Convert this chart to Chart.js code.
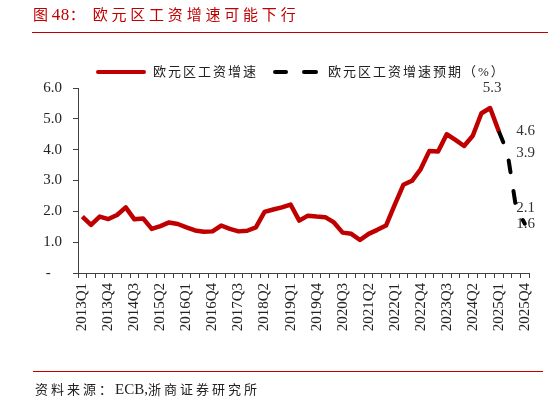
<!DOCTYPE html>
<html>
<head>
<meta charset="utf-8">
<script src="https://cdn.jsdelivr.net/npm/chart.js@4/dist/chart.umd.min.js"></script>
<style>
  html, body { margin: 0; padding: 0; background: #fff; }
  #wrap { position: relative; width: 548px; height: 403px; overflow: hidden;
    font-family: "Liberation Serif", "Noto Sans CJK SC", serif; }
  #chartBox { position: absolute; left: 0; top: 0; width: 548px; height: 403px; }
  .title { position: absolute; left: 33px; top: 4px; color: #c00000; font-size: 15px;
    letter-spacing: 3.8px; white-space: nowrap; line-height: 22px; }
  .rule { position: absolute; height: 1px; background: #c00000; }
  .legend-text { position: absolute; top: 63px; font-size: 13px; letter-spacing: 2px;
    color: #222; white-space: nowrap; line-height: 18px; }
  .swatch { position: absolute; height: 4px; border-radius: 2px; }
  .source { position: absolute; left: 35px; top: 379px; font-size: 13px; letter-spacing: 3px;
    color: #222; white-space: nowrap; line-height: 20px; }
  .latin { letter-spacing: 0; font-size: 15px; }
</style>
</head>
<body>
<div id="wrap">
  <div id="chartBox"><canvas id="wageChart"></canvas></div>
  <div class="title">图<span class="latin" style="font-size:17px; letter-spacing:0.5px;">48</span>：<span style="margin-left:4px;">欧元区工资增速可能下行</span></div>
  <div class="rule" style="left:32px; top:32px; width:516px;"></div>

  <div class="swatch" style="left:96px; top:70px; width:50px; background:#c00000;"></div>
  <div class="legend-text" style="left:153px;">欧元区工资增速</div>
  <div class="swatch" style="left:273px; top:70px; width:15px; background:#000;"></div>
  <div class="swatch" style="left:302px; top:70px; width:16px; background:#000;"></div>
  <div class="legend-text" style="left:328px;">欧元区工资增速预期（%）</div>

  <div class="rule" style="left:33px; top:371px; width:510px;"></div>
  <div class="source">资料来源：<span class="latin">ECB,</span>浙商证券研究所</div>
</div>

<script>
// 季度標籤 2013Q1 - 2025Q4
const quarters = [];
for (let y = 2013; y <= 2025; y++) {
  for (let q = 1; q <= 4; q++) quarters.push(y + 'Q' + q);
}

// 欧元区工资增速 (实际)
const wageActual = [
  1.83, 1.56, 1.83, 1.75, 1.88, 2.13, 1.74, 1.77,
  1.43, 1.52, 1.64, 1.59, 1.48, 1.38, 1.34, 1.35,
  1.54, 1.43, 1.35, 1.37, 1.48, 1.98, 2.06, 2.13,
  2.22, 1.70, 1.86, 1.83, 1.81, 1.64, 1.31, 1.27,
  1.07, 1.27, 1.40, 1.54, 2.21, 2.86, 2.99, 3.37,
  3.96, 3.94, 4.50, 4.32, 4.12, 4.45, 5.18, 5.35,
  4.60
];

// 欧元区工资增速预期 (2025Q1 - 2025Q4)
const wageForecast = [4.6, 3.9, 2.1, 1.6];
const forecastStart = 48;

const peakLabel = '5.3';
const yTicks = [0, 1, 2, 3, 4, 5, 6];

const RED = '#c00000';
const AXIS = '#404040';

const forecastSeries = quarters.map((q, i) =>
  i >= forecastStart ? wageForecast[i - forecastStart] : null);

// 数据标签
const valueLabels = {
  id: 'valueLabels',
  afterDatasetsDraw(chart) {
    const { ctx, scales: { x, y } } = chart;
    ctx.save();
    ctx.font = '15px "Liberation Serif", serif';
    ctx.fillStyle = '#333';
    ctx.textBaseline = 'middle';

    // 峰值
    let peakIdx = 0;
    wageActual.forEach((v, i) => { if (v > wageActual[peakIdx]) peakIdx = i; });
    ctx.textAlign = 'center';
    ctx.fillText(peakLabel, x.getPixelForValue(peakIdx) + 2,
      y.getPixelForValue(wageActual[peakIdx]) - 20);

    // 预期值
    ctx.textAlign = 'left';
    const lx = x.getPixelForValue(forecastStart + 2);
    wageForecast.forEach(v => {
      ctx.fillText(v.toFixed(1), lx, y.getPixelForValue(v));
    });
    ctx.restore();
  }
};

new Chart(document.getElementById('wageChart'), {
  type: 'line',
  data: {
    labels: quarters,
    datasets: [
      {
        label: '欧元区工资增速',
        data: wageActual,
        borderColor: RED,
        borderWidth: 4.5,
        pointRadius: 0,
        tension: 0,
        borderJoinStyle: 'round'
      },
      {
        label: '欧元区工资增速预期（%）',
        data: forecastSeries,
        borderColor: '#000',
        borderWidth: 4,
        borderDash: [12, 19],
        borderCapStyle: 'round',
        pointRadius: 0,
        tension: 0
      }
    ]
  },
  options: {
    responsive: true,
    maintainAspectRatio: false,
    animation: false,
    layout: { padding: { top: 88, right: 18, bottom: 60, left: 0 } },
    plugins: {
      legend: { display: false },
      tooltip: { enabled: false }
    },
    scales: {
      x: {
        offset: true,
        afterFit: s => { s.height = 70; },
        border: { color: AXIS, width: 1 },
        grid: { drawOnChartArea: false, drawTicks: true, tickLength: 5, color: AXIS, offset: true },
        ticks: {
          autoSkip: false,
          maxRotation: 90,
          minRotation: 90,
          padding: 5,
          color: '#222',
          font: { family: '"Liberation Serif", serif', size: 15 },
          callback: function(val, idx) { return idx % 3 === 0 ? this.getLabelForValue(val) : ''; }
        }
      },
      y: {
        min: 0,
        max: 6,
        afterFit: s => { s.width = 78; },
        afterBuildTicks: s => { s.ticks = yTicks.map(v => ({ value: v })); },
        border: { color: AXIS, width: 1 },
        grid: { drawOnChartArea: false, drawTicks: true, tickLength: 5, color: AXIS },
        ticks: {
          padding: 11,
          color: '#222',
          font: { family: '"Liberation Serif", serif', size: 15 },
          callback: v => v === 0 ? '-   ' : v.toFixed(1)
        }
      }
    }
  },
  plugins: [valueLabels]
});
</script>
</body>
</html>
